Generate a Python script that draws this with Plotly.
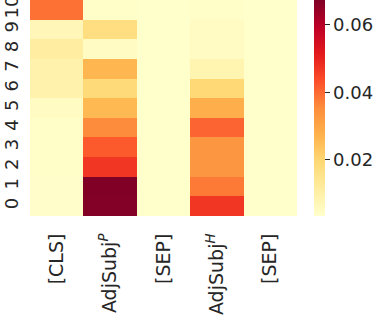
import plotly.graph_objects as go

tokens = ["[CLS]", "AdjSubj<sup><i>P</i></sup>", "[SEP]", "AdjSubj<sup><i>H</i></sup>", "[SEP]"]
layers = list(range(11))

# values per column, index = layer 0..10
cls_vals = [0.0038, 0.0038, 0.0039, 0.0040, 0.0042, 0.0053, 0.0090, 0.0090, 0.0110, 0.0072, 0.0390]
adjp_vals = [0.0670, 0.0674, 0.0470, 0.0420, 0.0354, 0.0260, 0.0190, 0.0265, 0.0053, 0.0175, 0.0040]
sep1_vals = [0.0036, 0.0036, 0.0036, 0.0036, 0.0036, 0.0036, 0.0036, 0.0036, 0.0036, 0.0036, 0.0036]
adjh_vals = [0.0470, 0.0380, 0.0335, 0.0335, 0.0405, 0.0280, 0.0194, 0.0085, 0.0050, 0.0050, 0.0040]
sep2_vals = [0.0036, 0.0036, 0.0036, 0.0036, 0.0036, 0.0036, 0.0036, 0.0036, 0.0036, 0.0036, 0.0036]

cols = [cls_vals, adjp_vals, sep1_vals, adjh_vals, sep2_vals]
z = [[c[i] for c in cols] for i in layers]

cb_ticks = [0.02, 0.04, 0.06]

fig = go.Figure(go.Heatmap(
    z=z, x=list(range(len(tokens))), y=layers,
    colorscale="YlOrRd", zmin=0.0034, zmax=0.0674,
    xgap=0, ygap=0,
    colorbar=dict(
        thickness=11, len=1, lenmode="fraction", y=0.5, yanchor="middle",
        x=1.064, xanchor="left", xpad=0, ypad=0, outlinewidth=0,
        tickvals=cb_ticks, ticktext=[f"{t:.2f}" for t in cb_ticks],
        ticks="outside", ticklen=5, tickcolor="#262626",
        tickfont=dict(size=18, color="#262626", family="DejaVu Sans"),
    ),
))

fig.update_layout(
    width=380, height=318,
    margin=dict(l=30, r=83, t=0, b=102, autoexpand=False),
    paper_bgcolor="white", plot_bgcolor="white",
    font=dict(family="DejaVu Sans", size=18, color="#262626"),
)
fig.update_xaxes(
    tickvals=list(range(len(tokens))), ticktext=tokens, tickangle=-90,
    showgrid=False, zeroline=False, ticks="outside", ticklen=9,
    tickcolor="rgba(0,0,0,0)", range=[-0.5, 4.5],
    tickfont=dict(size=19), automargin=False,
)
fig.update_yaxes(
    tickvals=layers, ticktext=[str(l) for l in layers], tickangle=-90,
    showgrid=False, zeroline=False, ticks="outside", ticklen=4,
    tickcolor="rgba(0,0,0,0)", range=[-0.5, 10.5],
    tickfont=dict(size=18), automargin=False, ticklabeloverflow="allow",
)

fig.write_html("out.html", config={"displayModeBar": False},
               post_script="document.body.style.margin='0';")
